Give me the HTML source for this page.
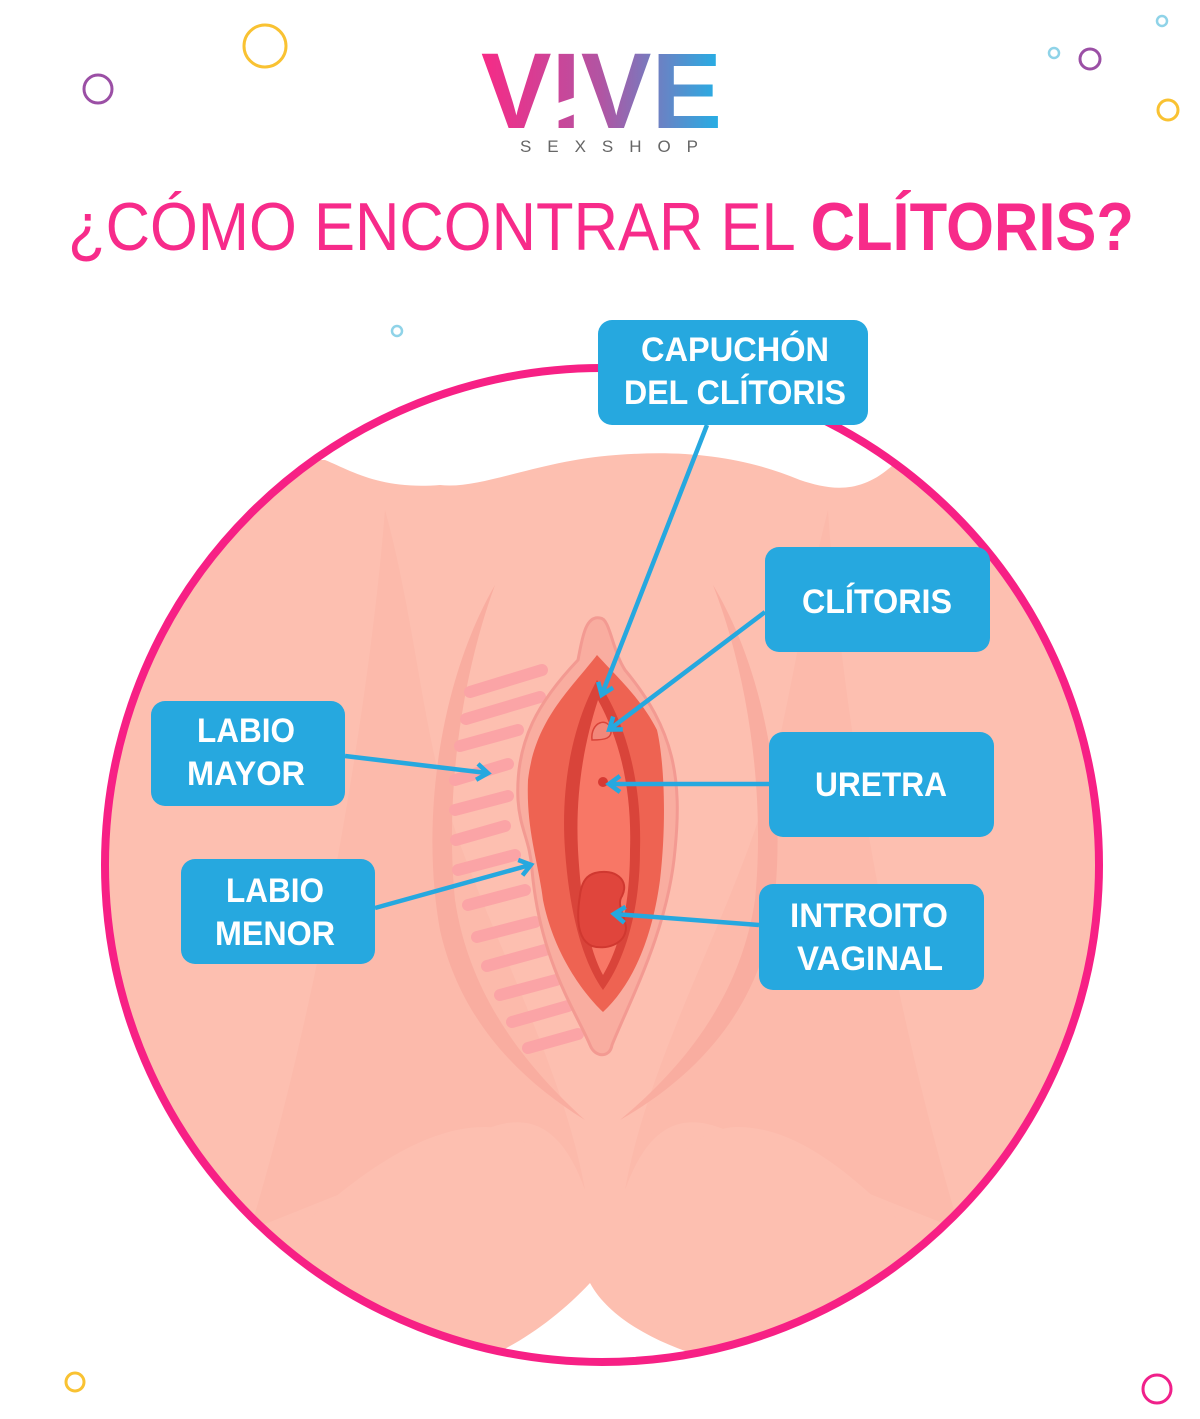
<!DOCTYPE html>
<html><head><meta charset="utf-8"><style>
html,body{margin:0;padding:0;background:#fff}
svg{display:block}
</style></head><body>
<svg width="1200" height="1419" viewBox="0 0 1200 1419" xmlns="http://www.w3.org/2000/svg">
<defs>
<linearGradient id="lg" x1="481" y1="0" x2="722" y2="0" gradientUnits="userSpaceOnUse">
<stop offset="0" stop-color="#f72a86"/><stop offset="0.5" stop-color="#b155a3"/><stop offset="1" stop-color="#22b0e6"/>
</linearGradient>
<clipPath id="cc"><circle cx="602" cy="865" r="494"/></clipPath>
<marker id="ah" viewBox="0 0 20 20" refX="14" refY="10" markerWidth="20" markerHeight="20" markerUnits="userSpaceOnUse" orient="auto">
<path d="M4 2 L15 10 L4 18" fill="none" stroke="#26a8df" stroke-width="4.5"/>
</marker>
</defs>

<g fill="none" stroke-width="3">
<circle cx="265" cy="46" r="21" stroke="#f9c232"/>
<circle cx="98" cy="89" r="14" stroke="#9b4fa5"/>
<circle cx="1054" cy="53" r="5" stroke="#8fd3e8" stroke-width="2.5"/>
<circle cx="1090" cy="59" r="10" stroke="#9b4fa5"/>
<circle cx="1162" cy="21" r="5" stroke="#8fd3e8" stroke-width="2.5"/>
<circle cx="1168" cy="110" r="10" stroke="#f9c232"/>
<circle cx="397" cy="331" r="5" stroke="#8fd3e8" stroke-width="2.5"/>
<circle cx="75" cy="1382" r="9" stroke="#f9c232"/>
<circle cx="1157" cy="1389" r="14" stroke="#f0208a"/>
</g>

<text x="481" y="128" font-family="Liberation Sans, sans-serif" font-weight="bold" font-size="108" fill="url(#lg)" textLength="241" lengthAdjust="spacingAndGlyphs">VIVE</text>
<polygon points="555,104 585,94 585,110 555,122" fill="#fff"/>
<text x="520" y="152" font-family="Liberation Sans, sans-serif" font-size="17" fill="#666" textLength="178" lengthAdjust="spacing">SEXSHOP</text>

<text x="68" y="250" font-family="Liberation Sans, sans-serif" font-size="68" fill="#f72b8a" textLength="1066" lengthAdjust="spacingAndGlyphs">¿CÓMO ENCONTRAR EL <tspan font-weight="bold">CLÍTORIS?</tspan></text>

<g clip-path="url(#cc)">
<rect x="100" y="360" width="1010" height="1010" fill="#fdbfb0"/>
<path d="M100 360 H1110 V470 L893 465 C860 495 830 490 800 480 C740 455 680 450 616 455 C540 460 480 490 440 485 C380 490 350 470 325 460 L100 460 Z" fill="#fff"/>
<path d="M385 510 C370 700 320 1000 250 1230 L450 1150 C520 1100 560 1120 585 1190 C560 1050 470 900 440 780 C420 700 410 600 385 510 Z" fill="#fcbaab"/>
<path d="M828 510 C840 700 890 1000 960 1230 L760 1150 C690 1100 650 1120 625 1190 C650 1050 740 900 770 780 C790 700 805 600 828 510 Z" fill="#fcbaab"/>
<path d="M200 1330 C300 1220 400 1125 487 1127 C540 1130 570 1200 590 1283 C560 1320 520 1345 480 1360 L200 1360 Z" fill="#fdbfb0"/>
<path d="M1000 1330 C900 1220 820 1125 735 1127 C680 1130 640 1200 612 1283 C640 1320 680 1345 713 1360 L1000 1360 Z" fill="#fdbfb0"/>
<path d="M480 1360 C520 1345 560 1315 590 1283 C610 1320 660 1345 713 1360 Z" fill="#fff"/>
<path d="M495 585 C440 680 420 820 440 930 C460 1020 520 1080 585 1120 C530 1070 470 1000 455 900 C445 800 460 680 495 585 Z" fill="#f9ada0"/>
<path d="M713 585 C770 680 790 820 770 930 C750 1020 690 1080 620 1120 C680 1070 740 1000 755 900 C765 800 750 680 713 585 Z" fill="#f9ada0"/>
</g>
<g stroke="#fba4a6" stroke-width="12" stroke-linecap="round">
<line x1="470" y1="692" x2="542" y2="670"/>
<line x1="466" y1="719" x2="540" y2="697"/>
<line x1="460" y1="746" x2="518" y2="730"/>
<line x1="455" y1="780" x2="508" y2="764"/>
<line x1="455" y1="810" x2="508" y2="796"/>
<line x1="456" y1="840" x2="505" y2="826"/>
<line x1="458" y1="870" x2="515" y2="855"/>
<line x1="468" y1="905" x2="525" y2="890"/>
<line x1="477" y1="937" x2="535" y2="922"/>
<line x1="487" y1="966" x2="545" y2="950"/>
<line x1="500" y1="995" x2="556" y2="980"/>
<line x1="512" y1="1022" x2="568" y2="1006"/>
<line x1="528" y1="1048" x2="578" y2="1034"/>
</g>
<path d="M600 618 C585 615 582 640 578 660 C540 700 515 740 518 800 C520 830 530 840 532 870 C540 960 575 1010 590 1045 C595 1058 610 1058 612 1045 C630 1000 668 930 675 850 C682 780 675 730 625 670 C612 650 610 618 600 618 Z" fill="#f9ada0" stroke="#f39a92" stroke-width="3"/>
<path d="M597 655 C570 690 535 720 528 780 C526 830 538 860 543 900 C553 950 580 990 603 1012 C632 985 652 940 660 880 C667 820 664 760 657 730 C642 700 620 680 597 655 Z" fill="#ee6352"/>
<path d="M597 680 C575 720 560 780 565 850 C570 920 585 965 603 990 C625 960 640 910 640 850 C642 780 625 720 597 680 Z" fill="#d9443a"/>
<path d="M598 700 C585 740 575 790 578 850 C582 920 592 955 603 975 C618 950 630 910 630 850 C632 790 620 740 598 700 Z" fill="#f87766"/>
<path d="M592 740 C590 722 608 716 611 730 C612 738 606 740 592 740 Z" fill="#f2877a" stroke="#d9443a" stroke-width="1.5"/>
<circle cx="603" cy="782" r="5" fill="#d63a33"/>
<path d="M595 873 C615 868 630 880 622 896 C616 905 625 915 626 928 C625 945 605 950 592 946 C578 940 576 920 580 895 C582 880 588 875 595 873 Z" fill="#e0453c" stroke="#d03830" stroke-width="2"/>

<circle cx="602" cy="865" r="497" fill="none" stroke="#f72085" stroke-width="8"/>

<g stroke="#26a8df" stroke-width="4.5" fill="none" marker-end="url(#ah)">
<line x1="707" y1="425" x2="602" y2="694"/>
<line x1="765" y1="612" x2="610" y2="729"/>
<line x1="769" y1="784" x2="610" y2="784"/>
<line x1="759" y1="925" x2="615" y2="914"/>
<line x1="345" y1="756" x2="487" y2="773"/>
<line x1="375" y1="908" x2="530" y2="865"/>
</g>

<g fill="#26a8df">
<rect x="598" y="320" width="270" height="105" rx="14"/>
<rect x="765" y="547" width="225" height="105" rx="14"/>
<rect x="769" y="732" width="225" height="105" rx="14"/>
<rect x="759" y="884" width="225" height="106" rx="14"/>
<rect x="151" y="701" width="194" height="105" rx="14"/>
<rect x="181" y="859" width="194" height="105" rx="14"/>
</g>
<g font-family="Liberation Sans, sans-serif" font-weight="bold" font-size="34" fill="#fff" text-anchor="middle">
<text x="735" y="361" textLength="188" lengthAdjust="spacingAndGlyphs">CAPUCHÓN</text>
<text x="735" y="404" textLength="222" lengthAdjust="spacingAndGlyphs">DEL CLÍTORIS</text>
<text x="877" y="613" textLength="150" lengthAdjust="spacingAndGlyphs">CLÍTORIS</text>
<text x="881" y="796" textLength="132" lengthAdjust="spacingAndGlyphs">URETRA</text>
<text x="869" y="927" textLength="158" lengthAdjust="spacingAndGlyphs">INTROITO</text>
<text x="870" y="970" textLength="146" lengthAdjust="spacingAndGlyphs">VAGINAL</text>
<text x="246" y="742" textLength="98" lengthAdjust="spacingAndGlyphs">LABIO</text>
<text x="246" y="785" textLength="118" lengthAdjust="spacingAndGlyphs">MAYOR</text>
<text x="275" y="902" textLength="98" lengthAdjust="spacingAndGlyphs">LABIO</text>
<text x="275" y="945" textLength="120" lengthAdjust="spacingAndGlyphs">MENOR</text>
</g>
</svg>
</body></html>
